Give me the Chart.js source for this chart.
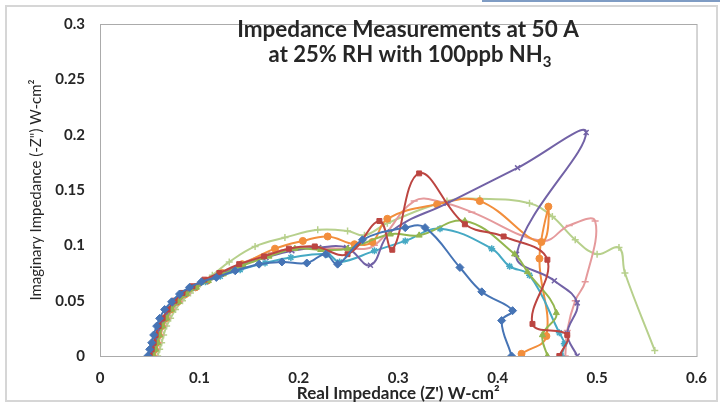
<!DOCTYPE html>
<html>
<head>
<meta charset="utf-8">
<script src="https://cdn.jsdelivr.net/npm/chart.js@4.4.1/dist/chart.umd.min.js"></script>
<style>
  html, body { margin: 0; padding: 0; background: #fff; }
  #wrap { width: 720px; height: 404px; }
</style>
</head>
<body>
<div id="wrap"><canvas id="myChartNyquist" width="720" height="404"></canvas></div>
<script>
// ticks
var reTicks = [0, 0.1, 0.2, 0.3, 0.4, 0.5, 0.6];
var imTicks = [0, 0.05, 0.1, 0.15, 0.2, 0.25, 0.3];

// Series values (Z', -Z'')
var s1Re = [0.048,0.050,0.052,0.054,0.057,0.060,0.065,0.072,0.080,0.090,0.102,0.117,0.136,0.160,0.183,0.208,0.227,0.239,0.264,0.307,0.327,0.362,0.384,0.415,0.404,0.414];
var s1Im = [0.000,0.006,0.012,0.019,0.027,0.034,0.042,0.049,0.056,0.062,0.067,0.071,0.077,0.083,0.085,0.084,0.092,0.083,0.105,0.116,0.116,0.080,0.058,0.041,0.032,0.000];

var s2Re = [0.050,0.052,0.054,0.056,0.059,0.063,0.068,0.075,0.083,0.093,0.105,0.120,0.140,0.165,0.190,0.216,0.249,0.281,0.294,0.321,0.367,0.406,0.450,0.435,0.470,0.462];
var s2Im = [0.000,0.006,0.012,0.019,0.027,0.034,0.042,0.050,0.057,0.063,0.069,0.075,0.083,0.090,0.097,0.099,0.092,0.122,0.096,0.165,0.119,0.108,0.087,0.029,0.019,0.000];

var s3Re = [0.054,0.056,0.058,0.060,0.063,0.067,0.072,0.079,0.087,0.097,0.109,0.124,0.144,0.170,0.196,0.222,0.249,0.292,0.321,0.367,0.417,0.430,0.459,0.445,0.450];
var s3Im = [0.000,0.006,0.012,0.019,0.027,0.034,0.042,0.049,0.056,0.062,0.068,0.074,0.082,0.090,0.097,0.096,0.097,0.110,0.109,0.122,0.092,0.076,0.039,0.019,0.000];

var s4Re = [0.052,0.054,0.056,0.058,0.061,0.065,0.070,0.077,0.085,0.095,0.107,0.122,0.142,0.167,0.193,0.220,0.248,0.272,0.292,0.349,0.420,0.489,0.419,0.457,0.480,0.470,0.480];
var s4Im = [0.000,0.006,0.012,0.019,0.027,0.034,0.042,0.049,0.056,0.062,0.068,0.074,0.082,0.089,0.095,0.098,0.098,0.082,0.112,0.138,0.170,0.202,0.092,0.068,0.048,0.020,0.000];

var s5Re = [0.051,0.053,0.055,0.057,0.060,0.064,0.069,0.076,0.084,0.094,0.106,0.121,0.141,0.166,0.192,0.229,0.241,0.276,0.307,0.342,0.394,0.412,0.432,0.462,0.467,0.464];
var s5Im = [0.000,0.006,0.012,0.019,0.027,0.034,0.042,0.049,0.056,0.062,0.067,0.072,0.078,0.084,0.089,0.092,0.085,0.095,0.104,0.115,0.097,0.081,0.073,0.021,0.011,0.000];

var s6Re = [0.053,0.055,0.057,0.059,0.062,0.066,0.071,0.078,0.086,0.096,0.108,0.123,0.143,0.176,0.204,0.229,0.256,0.274,0.289,0.339,0.382,0.444,0.451,0.442,0.449,0.424];
var s6Im = [0.000,0.006,0.012,0.019,0.027,0.034,0.042,0.049,0.056,0.062,0.068,0.075,0.083,0.097,0.104,0.108,0.101,0.103,0.124,0.137,0.140,0.103,0.135,0.088,0.018,0.002];

var s7Re = [0.055,0.057,0.059,0.061,0.064,0.068,0.073,0.080,0.088,0.098,0.110,0.125,0.146,0.172,0.200,0.250,0.276,0.316,0.344,0.374,0.445,0.472,0.498,0.488,0.478,0.470,0.468];
var s7Im = [0.000,0.006,0.012,0.019,0.027,0.034,0.042,0.049,0.056,0.063,0.069,0.076,0.085,0.093,0.098,0.097,0.100,0.140,0.139,0.130,0.104,0.118,0.122,0.067,0.050,0.023,0.000];

var s8Re = [0.058,0.060,0.062,0.064,0.067,0.071,0.076,0.083,0.091,0.101,0.113,0.130,0.156,0.186,0.219,0.249,0.266,0.289,0.349,0.382,0.432,0.455,0.478,0.500,0.522,0.528,0.558];
var s8Im = [0.000,0.006,0.012,0.019,0.027,0.034,0.042,0.050,0.057,0.065,0.073,0.085,0.099,0.107,0.114,0.113,0.109,0.120,0.140,0.142,0.138,0.126,0.105,0.092,0.098,0.075,0.005];

var seriesNames = ["Series1","Series2","Series3","Series4","Series5","Series6","Series7","Series8"];
var seriesColors = ["#4674B5","#BC4541","#93B64F","#7262A6","#46A9C4","#F28E3C","#E59A9C","#B7D08C"];
var seriesMarkers = ["rectRot","rect","triangle","crossRot","star","circle","line","cross"];

var allRe = [s1Re, s2Re, s3Re, s4Re, s5Re, s6Re, s7Re, s8Re];
var allIm = [s1Im, s2Im, s3Im, s4Im, s5Im, s6Im, s7Im, s8Im];

var datasets = allRe.map((re, i) => ({
  label: seriesNames[i],
  data: re.map((x, j) => ({ x: x, y: allIm[i][j] })),
  showLine: true,
  tension: 0.4,
  borderColor: seriesColors[i],
  backgroundColor: seriesColors[i],
  borderWidth: 2,
  pointStyle: seriesMarkers[i],
  pointRadius: seriesMarkers[i] == "rectRot" ? 4 : 3.5,
  pointBorderWidth: ["crossRot","star","line","cross"].includes(seriesMarkers[i]) ? 1.5 : 1,
}));

// marco exterior y borde del area
var marco = {
  id: "marco",
  beforeDraw(chart) {
    const ctx = chart.ctx;
    ctx.save();
    ctx.fillStyle = "#fff";
    ctx.fillRect(0, 0, 720, 404);
    ctx.strokeStyle = "#D6D6D6";
    ctx.lineWidth = 2;
    ctx.strokeRect(6, 6, 711, 395);
    ctx.fillStyle = "#7F9CC4";
    ctx.fillRect(482, 0, 238, 2);
    ctx.restore();
  },
  beforeDatasetsDraw(chart) {
    const a = chart.chartArea, ctx = chart.ctx;
    ctx.save();
    ctx.strokeStyle = "#ABABAB";
    ctx.lineWidth = 1;
    ctx.strokeRect(a.left + 0.5, a.top + 0.5, a.right - a.left, a.bottom - a.top);
    ctx.restore();
  },
  afterDraw(chart) {
    const ctx = chart.ctx;
    ctx.save();
    ctx.fillStyle = "#262626";
    ctx.textBaseline = "middle";
    ctx.textAlign = "center";
    ctx.font = "bold 22.5px Lato";
    ctx.fillText("Impedance Measurements at 50 A", 408, 30);
    var l2 = "at 25% RH with 100ppb NH";
    ctx.font = "bold 22px Lato";
    var w2 = ctx.measureText(l2).width;
    ctx.font = "bold 15px Lato";
    var w3 = ctx.measureText("3").width;
    var x0 = 410 - (w2 + w3) / 2;
    ctx.textAlign = "left";
    ctx.font = "bold 22px Lato";
    ctx.fillText(l2, x0, 55);
    ctx.font = "bold 15px Lato";
    ctx.fillText("3", x0 + w2, 62);
    ctx.restore();
  }
};

var chartNyquist = new Chart(document.getElementById("myChartNyquist").getContext("2d"), {
  type: "scatter",
  data: { datasets: datasets },
  plugins: [marco],
  options: {
    responsive: false,
    animation: false,
    layout: { padding: { left: 0, right: 18, top: 17, bottom: 0 } },
    plugins: {
      legend: { display: false },
      title: { display: false },
      tooltip: { enabled: false },
    },
    scales: {
      x: {
        type: "linear",
        min: 0,
        max: 0.6,
        afterBuildTicks: (s) => { s.ticks = reTicks.map((v) => ({ value: v })); },
        afterFit: (s) => { s.height = 48; },
        grid: { display: false, drawTicks: false },
        border: { display: false },
        ticks: {
          padding: 13,
          color: "#262626",
          font: { family: "Lato", size: 15, weight: "bold" },
          callback: (v) => String(Number(v.toFixed(2))),
        },
        title: {
          display: true,
          text: "Real Impedance (Z') W-cm²",
          color: "#262626",
          font: { family: "Lato", size: 17, weight: "bold" },
          padding: { top: 0, bottom: 0 },
        },
      },
      y: {
        type: "linear",
        min: 0,
        max: 0.3,
        afterBuildTicks: (s) => { s.ticks = imTicks.map((v) => ({ value: v })); },
        afterFit: (s) => { s.width = 100; },
        grid: { display: false, drawTicks: false },
        border: { display: false },
        ticks: {
          padding: 15,
          color: "#262626",
          font: { family: "Lato", size: 15, weight: "bold" },
          callback: (v) => String(Number(v.toFixed(2))),
        },
        title: {
          display: true,
          text: "Imaginary Impedance (-Z\") W-cm²",
          color: "#262626",
          font: { family: "Lato", size: 15 },
          padding: { top: 27, bottom: 0 },
        },
      },
    },
  },
});
</script>
</body>
</html>
